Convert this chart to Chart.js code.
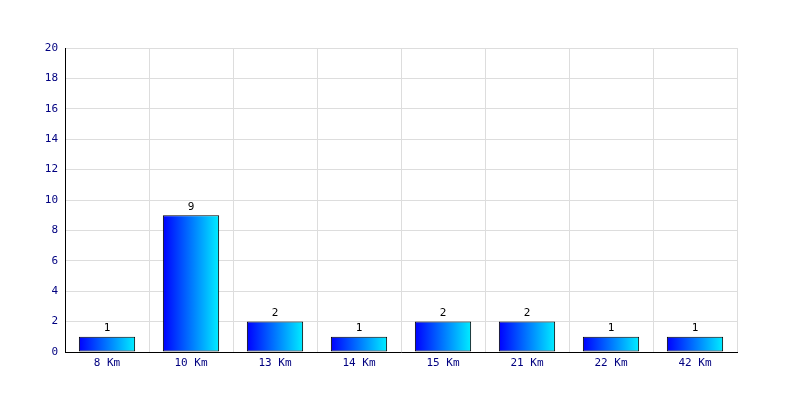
<!DOCTYPE html>
<html>
<head>
<meta charset="utf-8">
<script src="https://cdn.jsdelivr.net/npm/chart.js@4/dist/chart.umd.min.js"></script>
<style>
    html, body { margin: 0; padding: 0; background: #fff; }
    #wrap { width: 800px; height: 400px; }
</style>
</head>
<body>
<div id="wrap"><canvas id="chart" width="800" height="400"></canvas></div>
<script>
const categories = ['8 Km', '10 Km', '13 Km', '14 Km', '15 Km', '21 Km', '22 Km', '42 Km'];
const values = [1, 9, 2, 1, 2, 2, 1, 1];
const yTicks = [0, 2, 4, 6, 8, 10, 12, 14, 16, 18, 20];

const FONT = "'DejaVu Sans Mono', monospace";

function barGradient(context) {
    const chart = context.chart;
    const x = chart.scales.x;
    if (!chart.chartArea || !x) return '#0000ff';
    const cx = x.getPixelForValue(context.dataIndex);
    const half = (x.width / categories.length) * 0.67 / 2;
    const g = chart.ctx.createLinearGradient(cx - half, 0, cx + half, 0);
    g.addColorStop(0, '#0000ff');
    g.addColorStop(1, '#00eeff');
    return g;
}

const valueLabels = {
    id: 'valueLabels',
    afterDatasetsDraw: (chart) => {
        const ctx = chart.ctx;
        const meta = chart.getDatasetMeta(0);
        ctx.save();
        ctx.fillStyle = '#000';
        ctx.textAlign = 'center';
        ctx.textBaseline = 'bottom';
        ctx.font = '11px ' + FONT;
        meta.data.forEach((bar, i) => {
            ctx.fillText(values[i], bar.x, bar.y - 3);
        });
        ctx.restore();
    }
};

new Chart(document.getElementById('chart').getContext('2d'), {
    type: 'bar',
    data: {
        labels: categories,
        datasets: [{
            data: values,
            backgroundColor: barGradient,
            borderColor: '#000',
            borderWidth: 1,
            borderSkipped: false,
            barPercentage: 0.67,
            categoryPercentage: 1
        }]
    },
    options: {
        responsive: false,
        animation: false,
        devicePixelRatio: 1,
        layout: { padding: { top: 48, right: 63, left: 0, bottom: 0 } },
        plugins: {
            legend: { display: false },
            tooltip: { enabled: false }
        },
        scales: {
            x: {
                grid: { color: '#dddddd', drawTicks: false, offset: true },
                border: { color: '#000', width: 1 },
                ticks: { color: '#000080', font: { family: FONT, size: 11 }, padding: 5 },
                afterFit: (s) => { s.height = 48; }
            },
            y: {
                min: 0,
                max: 20,
                afterBuildTicks: (s) => { s.ticks = yTicks.map(v => ({ value: v })); },
                grid: { color: '#dddddd', drawTicks: false },
                border: { color: '#000', width: 1 },
                ticks: { color: '#000080', font: { family: FONT, size: 11 }, padding: 7 },
                afterFit: (s) => { s.width = 65; }
            }
        }
    },
    plugins: [valueLabels]
});
</script>
</body>
</html>
